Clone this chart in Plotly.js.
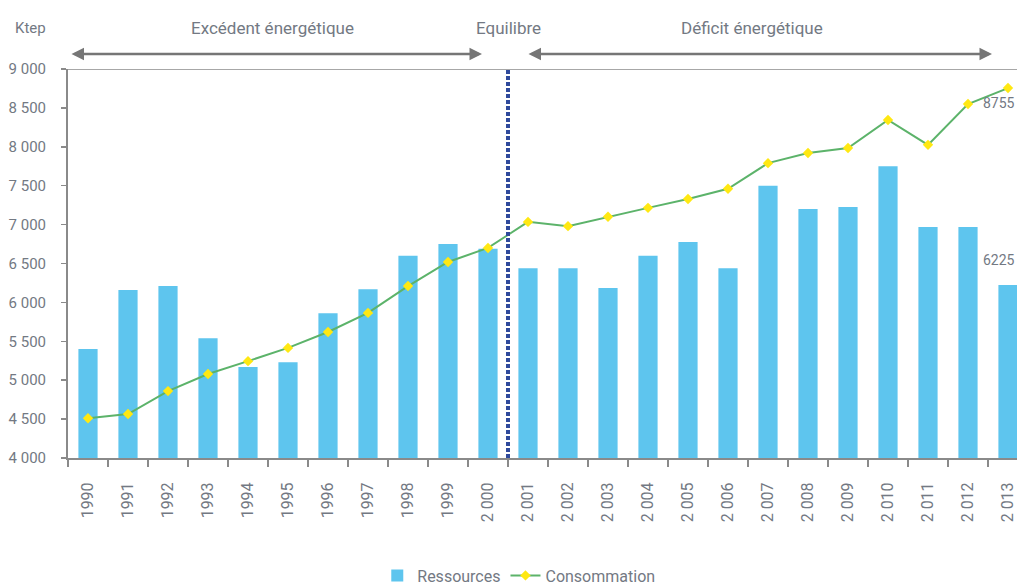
<!DOCTYPE html>
<html><head><meta charset="utf-8">
<script src="https://cdn.plot.ly/plotly-3.0.1.min.js"></script>
<style>html,body{margin:0;padding:0;overflow:hidden;background:#fff}#chart{width:1017px;height:587px}</style>
</head><body><div id="chart"></div>
<script>
const years = ['1990','1991','1992','1993','1994','1995','1996','1997','1998','1999','2 000','2 001','2 002','2 003','2 004','2 005','2 006','2 007','2 008','2 009','2 010','2 011','2 012','2 013'];
const ressources = [5400,6160,6210,5540,5170,5230,5860,6170,6600,6750,6690,6440,6440,6185,6600,6775,6440,7500,7200,7225,7750,6970,6970,6225];
const consommation = [4510,4565,4860,5080,5245,5415,5620,5865,6210,6520,6700,7035,6980,7100,7215,7330,7460,7790,7920,7985,8345,8025,8550,8755];
const yTicks = [4000,4500,5000,5500,6000,6500,7000,7500,8000,8500,9000];
const yTickText = ['4 000','4 500','5 000','5 500','6 000','6 500','7 000','7 500','8 000','8 500','9 000'];
const last = years.length - 1;

const FONT = 'Roboto, "Liberation Sans", sans-serif';
const GREY = '#737983';

const traces = [
  {type:'bar', name:'Ressources', x:years, y:ressources, marker:{color:'#5ec5ee'}, width:0.48},
  {type:'scatter', mode:'lines+markers', name:'Consommation', x:years, y:consommation,
   line:{color:'#5cb36a',width:2}, marker:{symbol:'diamond',color:'#ffe812',size:8}, cliponaxis:false}
];

const layout = {
  width:1017, height:587,
  margin:{l:68,r:0,t:69,b:129,autoexpand:false},
  paper_bgcolor:'#fff', plot_bgcolor:'#fff',
  font:{family:FONT,color:GREY,size:14},
  showlegend:true,
  legend:{orientation:'h',x:0.475,xanchor:'center',y:-0.302,yanchor:'middle',font:{family:FONT,size:16,color:GREY},traceorder:'normal'},
  xaxis:{type:'category',range:[-0.5,23.225],automargin:false,showgrid:false,showline:true,linecolor:'#8a8a8a',linewidth:2,
    ticks:'outside',tickson:'boundaries',ticklen:7,tickcolor:'#8a8a8a',tickwidth:1.5,ticklabelstandoff:16,
    tickangle:-90,tickfont:{family:FONT,size:16,color:GREY},zeroline:false},
  yaxis:{range:[4000,9000],automargin:false,tickvals:yTicks,ticktext:yTickText,showgrid:false,showline:true,linecolor:'#8a8a8a',linewidth:2,
    ticks:'outside',ticklen:5,tickcolor:'#8a8a8a',tickwidth:1.5,ticklabelstandoff:12,tickfont:{family:FONT,size:15,color:GREY},zeroline:false},
  shapes:[
    {type:'line',xref:'paper',yref:'y',x0:0,x1:1,y0:9000,y1:9000,line:{color:'#8a8a8a',width:1.5}},
    {type:'line',xref:'x',yref:'y',x0:10.5,x1:10.5,y0:4000,y1:9030,line:{color:'#2f4a9c',width:4,dash:'4px,2px'}}
  ],
  annotations:[
    {xref:'paper',yref:'paper',x:-0.04,y:1.105,xanchor:'center',yanchor:'middle',text:'Ktep',showarrow:false,font:{family:FONT,size:15,color:GREY}},
    {xref:'x',yref:'paper',x:4.6,y:1.105,xanchor:'center',yanchor:'middle',text:'Excédent énergétique',showarrow:false,font:{family:FONT,size:17,color:GREY}},
    {xref:'x',yref:'paper',x:10.5,y:1.105,xanchor:'center',yanchor:'middle',text:'Equilibre',showarrow:false,font:{family:FONT,size:17,color:GREY}},
    {xref:'x',yref:'paper',x:16.6,y:1.105,xanchor:'center',yanchor:'middle',text:'Déficit énergétique',showarrow:false,font:{family:FONT,size:17,color:GREY}},
    {xref:'x',yref:'paper',x:9.85,y:1.0386,ax:-412,ay:0,text:'',showarrow:true,arrowside:'end+start',arrowhead:2,arrowsize:1,arrowwidth:2.5,arrowcolor:'#767676',standoff:0,startstandoff:0},
    {xref:'x',yref:'paper',x:22.6,y:1.0386,ax:-465,ay:0,text:'',showarrow:true,arrowside:'end+start',arrowhead:2,arrowsize:1,arrowwidth:2.5,arrowcolor:'#767676',standoff:0,startstandoff:0},
    {xref:'paper',yref:'y',x:1,y:consommation[last],xanchor:'right',yanchor:'middle',yshift:-15,text:String(consommation[last]),showarrow:false,font:{family:FONT,size:14,color:GREY}},
    {xref:'paper',yref:'y',x:1,y:ressources[last],xanchor:'right',yanchor:'middle',yshift:25,text:String(ressources[last]),showarrow:false,font:{family:FONT,size:14,color:GREY}}
  ]
};
Plotly.newPlot('chart',traces,layout,{displayModeBar:false,staticPlot:true});
</script></body></html>
